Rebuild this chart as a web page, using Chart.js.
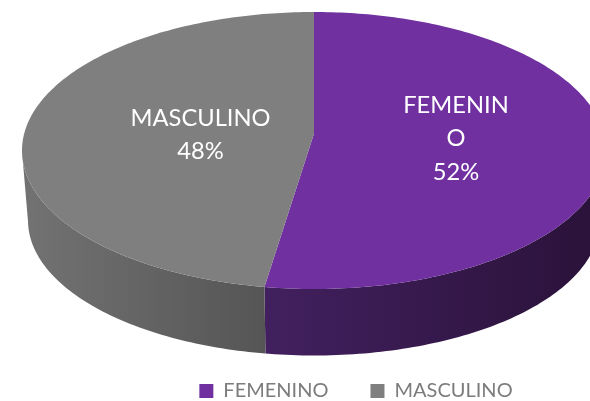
<!DOCTYPE html>
<html>
<head>
<meta charset="utf-8">
<style>
  html, body { margin: 0; background: #fff; }
  canvas { display: block; }
</style>
<script src="https://cdn.jsdelivr.net/npm/chart.js@4"></script>
</head>
<body>
<canvas id="pieChart" width="590" height="401"></canvas>
<script>
const categories = ["FEMENINO", "MASCULINO"];
const values = [52.4, 47.6];
const slice_text = [["FEMENIN", "O"], ["MASCULINO"]];
const top_colors = ["#7030a0", "#7f7f7f"];
const side_colors = [["#42205f", "#2a1239"], ["#727272", "#555555"]];

// the pie is tilted, so the top and bottom faces are two ellipses
const top_face = { x: 314, y: 150.5, rx: 292, ry: 138.5 };
const bottom_face = { x: 314, y: 220.5, rx: 286, ry: 135 };
// how far the pie centre sits above the middle of the ellipse
const perspective = -0.123;
const label_spots = [{ x: 456, y: 105 }, { x: 200.5, y: 118 }];

function project(angle, face) {
  const a = perspective;
  const theta = angle + Math.PI / 2;
  const sx = Math.sin(theta);
  const sy = -Math.cos(theta);
  const d = 1 + a * sy;
  return {
    x: face.x + (face.rx * sx * Math.sqrt(1 - a * a)) / d,
    y: face.y + (face.ry * (sy + a)) / d,
  };
}

function anglesOf(arc) {
  const list = [];
  const step = Math.PI / 180;
  for (let t = arc.startAngle; t < arc.endAngle; t += step) {
    list.push(t);
  }
  list.push(arc.endAngle);
  return list;
}

const pie3d = {
  id: "pie3d",
  beforeDatasetsDraw(chart) {
    const ctx = chart.ctx;
    const arcs = chart.getDatasetMeta(0).data;

    arcs.forEach((arc, i) => {
      // only the front of the rim shows
      const angles = anglesOf(arc).filter((t) => project(t, top_face).y >= top_face.y);
      const tops = angles.map((t) => project(t, top_face));
      const bottoms = angles.map((t) => project(t, bottom_face));
      const xs = bottoms.map((p) => p.x);
      const side = ctx.createLinearGradient(Math.min(...xs), 0, Math.max(...xs), 0);
      side.addColorStop(0, side_colors[i][0]);
      side.addColorStop(1, side_colors[i][1]);

      ctx.beginPath();
      tops.forEach((p) => ctx.lineTo(p.x, p.y));
      bottoms.reverse().forEach((p) => ctx.lineTo(p.x, p.y));
      ctx.closePath();
      ctx.fillStyle = side;
      ctx.fill();
    });

    arcs.forEach((arc) => {
      ctx.beginPath();
      ctx.moveTo(top_face.x, top_face.y + top_face.ry * perspective);
      anglesOf(arc).forEach((t) => {
        const p = project(t, top_face);
        ctx.lineTo(p.x, p.y);
      });
      ctx.closePath();
      ctx.fillStyle = arc.options.backgroundColor;
      ctx.fill();
    });

    return false;
  },
  // afterDatasetsDraw does not fire once the hook above returns false
  afterDraw(chart) {
    const ctx = chart.ctx;
    const total = values.reduce((a, b) => a + b);
    ctx.save();
    ctx.fillStyle = "#ffffff";
    ctx.font = "23.7px Lato";
    ctx.textAlign = "center";
    ctx.textBaseline = "middle";
    values.forEach((value, i) => {
      const lines = [...slice_text[i], Math.round((value / total) * 100) + "%"];
      lines.forEach((line, j) => {
        ctx.fillText(line, label_spots[i].x, label_spots[i].y + j * 33.5);
      });
    });
    ctx.restore();
  },
};

new Chart(document.getElementById("pieChart"), {
  type: "pie",
  data: {
    labels: categories,
    datasets: [
      {
        data: values,
        backgroundColor: top_colors,
        borderWidth: 0,
      },
    ],
  },
  options: {
    responsive: false,
    animation: false,
    layout: { padding: { left: 122, bottom: -10 } },
    plugins: {
      tooltip: { enabled: false },
      legend: {
        position: "bottom",
        labels: {
          boxWidth: 14,
          boxHeight: 14,
          padding: 42,
          color: "#7c7c7c",
          font: { family: "Lato", size: 20 },
        },
      },
    },
  },
  plugins: [pie3d],
});
</script>
</body>
</html>
